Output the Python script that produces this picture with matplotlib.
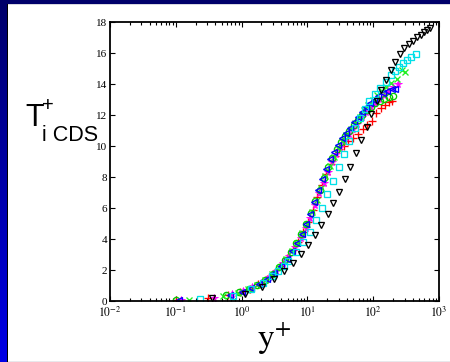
import numpy as np
import matplotlib
matplotlib.use("Agg")
import matplotlib.pyplot as plt
from matplotlib.patches import Rectangle
from matplotlib.ticker import LogLocator, FixedLocator, NullFormatter

plt.rcParams["mathtext.fontset"] = "stix"

# Mean temperature profiles in wall units, one list pair per case
red_y = [0.10, 0.31, 0.62, 0.95, 1.32, 1.8, 2.4, 3.1, 3.9, 4.9, 6.0, 7.3, 8.7, 10.3, 12.1,
         14.2, 16.6, 19.3, 22.5, 26.2, 30.5, 35.5, 41.5, 49, 58, 69, 81, 95, 112, 130, 150, 172, 190]
red_T = [0.07, 0.2, 0.4, 0.6, 0.82, 1.1, 1.45, 1.85, 2.27, 2.77, 3.3, 3.85, 4.45, 5.1, 5.9,
         6.7, 7.5, 8.2, 8.85, 9.35, 9.8, 10.0, 10.3, 10.55, 10.8, 11.1, 11.35, 11.65, 12.15, 12.45, 12.65, 12.85, 12.92]

mag_y = [0.12, 0.38, 0.72, 1.05, 1.45, 1.95, 2.6, 3.35, 4.25, 5.3, 6.5, 7.9, 9.4, 11.1, 13.0, 15.2, 17.6,
         20.4, 23.6, 27.3, 31.6, 36.6, 42.5, 49.5, 57.5, 67, 78, 91, 106, 124, 145, 170, 200, 240]
mag_T = [0.08, 0.24, 0.46, 0.66, 0.9, 1.18, 1.55, 1.97, 2.45, 2.95, 3.5, 4.1, 4.7, 5.4, 6.2, 6.95, 7.65,
         8.35, 8.95, 9.5, 9.95, 10.35, 10.75, 11.1, 11.45, 11.85, 12.2, 12.5, 12.8, 13.05, 13.3, 13.55, 13.8, 14.0]

gro_y = [0.10, 0.58, 0.92, 1.28, 1.72, 2.3, 2.95, 3.75, 4.6, 5.65, 6.8, 8.1, 9.6, 11.3, 13.2, 15.4, 17.9,
         20.8, 24.0, 27.8, 32.2, 37.3, 43.4, 50.5, 58.8, 68.5, 80, 93, 108, 126, 147, 172, 200]
gro_T = [0.07, 0.38, 0.57, 0.8, 1.06, 1.4, 1.78, 2.2, 2.68, 3.2, 3.75, 4.35, 4.95, 5.7, 6.45, 7.2, 7.95,
         8.65, 9.25, 9.8, 10.25, 10.65, 11.0, 11.35, 11.7, 12.0, 12.3, 12.55, 12.75, 12.9, 13.05, 13.15, 13.2]

grx_y = [0.16, 0.52, 0.88, 1.25, 1.7, 2.25, 2.9, 3.7, 4.65, 5.75, 7.0, 8.4, 10.0, 11.8, 13.8, 16.1, 18.7,
         21.7, 25.2, 29.2, 33.8, 39.2, 45.5, 53, 62, 72, 84, 98, 115, 135, 158, 185, 228, 270, 302]
grx_T = [0.1, 0.33, 0.55, 0.78, 1.04, 1.37, 1.75, 2.17, 2.7, 3.22, 3.78, 4.38, 5.0, 5.75, 6.5, 7.3, 8.05,
         8.7, 9.3, 9.85, 10.3, 10.7, 11.1, 11.5, 11.9, 12.3, 12.65, 13.0, 13.3, 13.55, 13.8, 14.05, 14.32, 14.92, 14.78]

blu_y = [0.11, 0.67, 1.02, 1.38, 1.85, 2.45, 3.15, 3.95, 4.85, 5.9, 7.0, 8.25, 9.6, 11.1, 12.8, 14.7, 16.9,
         19.4, 22.3, 25.6, 29.4, 33.8, 38.8, 44.6, 51.3, 59, 68, 78, 90, 104, 120, 140, 163, 190, 213]
blu_T = [0.08, 0.42, 0.63, 0.85, 1.12, 1.45, 1.84, 2.28, 2.75, 3.25, 3.78, 4.35, 4.95, 5.65, 6.4, 7.15, 7.9,
         8.55, 9.15, 9.65, 10.1, 10.5, 10.85, 11.2, 11.55, 11.9, 12.2, 12.5, 12.8, 13.0, 13.2, 13.4, 13.55, 13.65, 13.7]

cya_y = [0.233, 0.75, 1.37, 2.1, 2.9, 3.6, 4.4, 5.1, 6.8, 8.5, 11.0, 13.5, 16.6, 20.2, 24.8, 30.2, 36.6,
         43.4, 52, 62, 74, 87, 105, 127, 155, 184, 214, 250, 281, 330, 375, 442]
cya_T = [0.17, 0.37, 0.77, 1.18, 1.6, 1.98, 2.3, 2.58, 3.16, 3.79, 4.49, 5.22, 6.02, 6.9, 7.73, 8.63, 9.48,
         10.31, 11.19, 11.79, 12.41, 12.93, 13.34, 13.75, 14.15, 14.58, 14.86, 15.12, 15.34, 15.53, 15.72, 15.94]

blk_y = [0.35, 1.13, 2.07, 3.14, 4.45, 6.1, 8.1, 10.3, 13.0, 16.3, 20.3, 24.8, 30.2, 36.8, 43.9, 54.2,
         65.3, 79.6, 92.7, 113, 131, 155, 184, 214, 255, 297, 354, 407, 468, 525, 590, 662, 725]
blk_T = [0.19, 0.47, 0.95, 1.42, 1.93, 2.49, 3.03, 3.63, 4.25, 4.90, 5.61, 6.34, 7.07, 7.86, 8.68, 9.54,
         10.40, 11.25, 12.07, 12.89, 13.62, 14.26, 14.90, 15.42, 15.94, 16.30, 16.56, 16.80, 17.01, 17.18, 17.33, 17.48, 17.59]

y_ticks = [0, 2, 4, 6, 8, 10, 12, 14, 16, 18]
x_ticks = [1e-2, 1e-1, 1e0, 1e1, 1e2, 1e3]
x_tick_labels = [r"$10^{-2}$", r"$10^{-1}$", r"$10^{0}$", r"$10^{1}$", r"$10^{2}$", r"$10^{3}$"]

W, H = 450, 362
fig = plt.figure(figsize=(W / 100, H / 100), dpi=100)
fig.patch.set_facecolor("white")

# Slide frame: navy top band, blue gradient strip with a dark edge on the left
bg = fig.add_axes([0, 0, 1, 1], zorder=-10)
bg.set_xlim(0, W)
bg.set_ylim(H, 0)
bg.axis("off")
grad = np.linspace(0, 1, 256).reshape(-1, 1)
cmap = matplotlib.colors.LinearSegmentedColormap.from_list("frame", ["#00006a", "#0000e6"])
bg.imshow(grad, cmap=cmap, extent=(0, 6.5, H, 0), aspect="auto", interpolation="bilinear")
bg.add_patch(Rectangle((0, 0), W, 4.3, color="#00006a", lw=0))
bg.add_patch(Rectangle((6.5, 4.3), 1.7, H, color="#000000", lw=0))
bg.add_patch(Rectangle((8.2, 4.3), W, 0.8, color="#d8d8e0", lw=0))
bg.add_patch(Rectangle((8.2, H - 1.2), W, 1.2, color="#e8e8ec", lw=0))

ax = fig.add_axes([110 / W, 1 - 301.3 / H, 329 / W, 279.3 / H])

ms = 4.5
mew = 0.95
ax.plot(red_y, red_T, "+", color="#ff0000", ms=ms + 0.6, mew=mew, ls="none")
ax.plot(mag_y, mag_T, "*", color="#ff00ff", ms=ms + 1.2, mew=0.6, ls="none")
ax.plot(gro_y, gro_T, "o", mfc="none", mec="#00cc00", ms=ms, mew=mew, ls="none")
ax.plot(grx_y, grx_T, "x", color="#22ee22", ms=ms - 0.6, mew=mew, ls="none")
ax.plot(blu_y, blu_T, "<", mfc="none", mec="#0000ff", ms=ms, mew=mew, ls="none")
ax.plot(cya_y, cya_T, "s", mfc="none", mec="#00e0e8", ms=ms, mew=mew, ls="none")
ax.plot(blk_y, blk_T, "v", mfc="none", mec="#000000", ms=ms + 0.3, mew=mew, ls="none")

ax.set_xscale("log")
ax.set_xlim(1e-2, 1e3)
ax.set_ylim(0, 18)
ax.yaxis.set_major_locator(FixedLocator(y_ticks))
ax.set_xticks(x_ticks)
ax.set_xticklabels(x_tick_labels, fontsize=8.5)
ax.xaxis.set_minor_locator(LogLocator(base=10, subs=np.arange(2, 10), numticks=20))
ax.xaxis.set_minor_formatter(NullFormatter())

for s in ax.spines.values():
    s.set_linewidth(1.3)
ax.tick_params(which="both", direction="in", top=True, right=True, width=0.8)
ax.tick_params(which="major", length=3.5, pad=3)
ax.tick_params(which="minor", length=2)
ax.tick_params(axis="y", pad=2)

for lab in ax.get_yticklabels():
    lab.set_fontfamily("Liberation Serif")
    lab.set_fontsize(8)

# Axis titles
fig.text(274 / W, 1 - 357 / H, r"$\mathrm{y}^{+}$", fontsize=24, ha="center", va="bottom")
fig.text(25 / W, 1 - 126.5 / H, "T", fontsize=22, family="Liberation Sans",
         ha="left", va="baseline")
fig.text(42 / W, 1 - 110.5 / H, "+", fontsize=14.5, family="Liberation Sans",
         ha="left", va="baseline")
fig.text(41.5 / W, 1 - 141 / H, "i CDS", fontsize=15.5, family="Liberation Sans",
         ha="left", va="baseline")

fig.savefig("out.png", dpi=100)
